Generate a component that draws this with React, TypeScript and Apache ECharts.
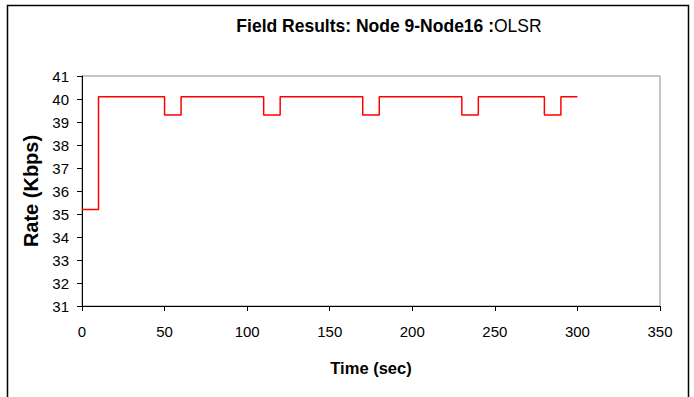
import React, { useEffect, useRef } from "react";
import * as echarts from "echarts";

const times = [0, 10, 50, 60, 110, 120, 170, 180, 230, 240, 280, 290, 300];
const rates = [35.2, 40.1, 39.3, 40.1, 39.3, 40.1, 39.3, 40.1, 39.3, 40.1, 39.3, 40.1, 40.1];
const xTicks = { min: 0, max: 350, interval: 50 };
const yTicks = { min: 31, max: 41, interval: 1 };
const titleBold = "Field Results: Node 9-Node16 :";
const titleRegular = "OLSR";

export default function App() {
  const ref = useRef<HTMLDivElement>(null);
  useEffect(() => {
    const chart = echarts.init(ref.current!, undefined, { renderer: "svg" });
    const font = "Liberation Sans, Arial, sans-serif";
    chart.setOption({
      animation: false,
      backgroundColor: "#fff",
      textStyle: { fontFamily: font },
      graphic: [
        {
          type: "rect",
          shape: { x: 7.5, y: 5.5, width: 681, height: 400 },
          style: { fill: "none", stroke: "#000", lineWidth: 1.5 },
          silent: true,
        },
      ],
      title: {
        text: `{b|${titleBold}}{r|${titleRegular}}`,
        left: 384,
        textAlign: "center",
        top: 12,
        textStyle: {
          rich: {
            b: { fontFamily: font, fontSize: 17.5, fontWeight: "bold", color: "#000" },
            r: { fontFamily: font, fontSize: 17.5, fontWeight: "normal", color: "#000" },
          },
        },
      },
      grid: {
        left: 82,
        right: 34,
        top: 76,
        bottom: 91,
        show: true,
        borderColor: "#8c8c8c",
        borderWidth: 1,
        backgroundColor: "transparent",
      },
      xAxis: {
        type: "value",
        min: xTicks.min,
        max: xTicks.max,
        interval: xTicks.interval,
        name: "Time (sec)",
        nameLocation: "middle",
        nameGap: 53,
        nameTextStyle: { fontFamily: font, fontSize: 16.5, fontWeight: "bold", color: "#000" },
        axisLine: { show: true, lineStyle: { color: "#000", width: 1 } },
        axisTick: { show: true, length: 5, lineStyle: { color: "#000" } },
        axisLabel: { fontFamily: font, fontSize: 15, color: "#000", margin: 18 },
        splitLine: { show: false },
      },
      yAxis: {
        type: "value",
        min: yTicks.min,
        max: yTicks.max,
        interval: yTicks.interval,
        name: "Rate (Kbps)",
        nameLocation: "middle",
        nameGap: 40,
        nameRotate: 90,
        nameTextStyle: { fontFamily: font, fontSize: 20, fontWeight: "bold", color: "#000" },
        axisLine: { show: true, lineStyle: { color: "#000", width: 1 } },
        axisTick: { show: true, length: 5, lineStyle: { color: "#000" } },
        axisLabel: { fontFamily: font, fontSize: 15, color: "#000", margin: 13 },
        splitLine: { show: false },
      },
      series: [
        {
          type: "line",
          step: "end",
          data: times.map((t, i) => [t, rates[i]]),
          showSymbol: false,
          lineStyle: { color: "#ff0000", width: 1.5 },
        },
      ],
    });
    return () => chart.dispose();
  }, []);
  return (
    <div
      ref={ref}
      style={{ position: "fixed", left: 0, top: 0, width: 694, height: 397 }}
    />
  );
}
